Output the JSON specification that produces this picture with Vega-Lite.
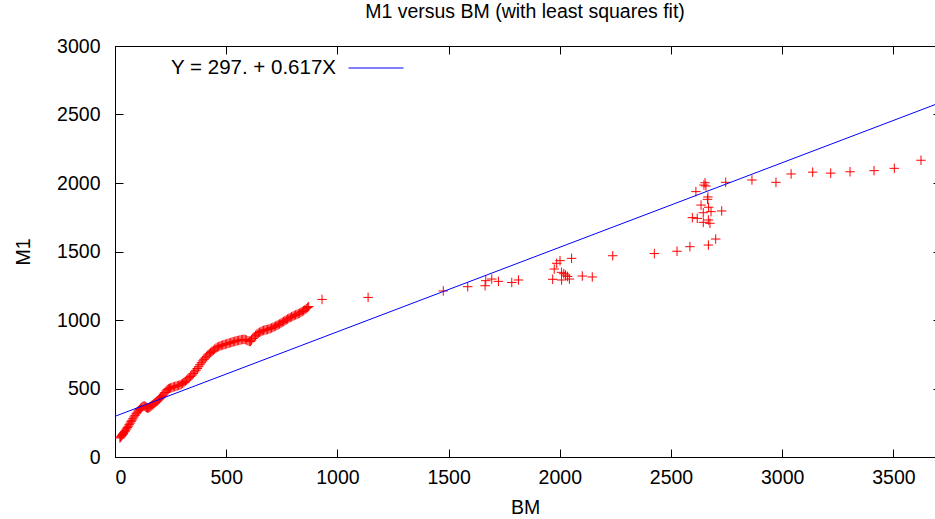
{
  "$schema": "https://vega.github.io/schema/vega-lite/v6.json",
  "width": 820,
  "height": 411,
  "autosize": {"type": "none"},
  "padding": {"left": 115, "top": 46, "right": 0, "bottom": 62},
  "background": "white",
  "title": {"text": "M1 versus BM (with least squares fit)", "font": "Liberation Sans", "fontSize": 19.5, "fontWeight": "normal", "color": "#000000", "anchor": "middle", "offset": 14},
  "config": {
    "view": {"stroke": "#000000", "strokeWidth": 1},
    "axis": {"labelFont": "Liberation Sans", "labelFontSize": 19.5, "labelColor": "#000000", "titleFont": "Liberation Sans", "titleFontSize": 19.5, "titleFontWeight": "normal", "titleColor": "#000000", "grid": false, "domain": false, "tickColor": "#000000", "tickSize": -8, "tickWidth": 1, "format": "d"},
    "legend": {"labelFont": "Liberation Sans", "labelFontSize": 20.5, "labelColor": "#000000", "labelLimit": 400}
  },
  "layer": [
    {
      "data": {"values": [
        {"BM":22,"M1":139},{"BM":25,"M1":145},{"BM":28,"M1":151},{"BM":31,"M1":157},{"BM":34,"M1":164},{"BM":37,"M1":171},{"BM":40,"M1":178},{"BM":44,"M1":187},{"BM":48,"M1":196},{"BM":52,"M1":205},{"BM":56,"M1":215},{"BM":60,"M1":225},{"BM":64,"M1":236},{"BM":68,"M1":247},{"BM":72,"M1":258},{"BM":76,"M1":268},{"BM":80,"M1":279},{"BM":85,"M1":292},{"BM":90,"M1":304},{"BM":95,"M1":316},{"BM":100,"M1":327},{"BM":105,"M1":337},{"BM":110,"M1":346},{"BM":115,"M1":355},{"BM":120,"M1":363},{"BM":125,"M1":369},{"BM":130,"M1":373},{"BM":134,"M1":371},{"BM":138,"M1":366},{"BM":142,"M1":361},{"BM":146,"M1":357},{"BM":150,"M1":358},{"BM":154,"M1":362},{"BM":158,"M1":367},{"BM":162,"M1":372},
        {"BM":166,"M1":377},{"BM":170,"M1":382},{"BM":175,"M1":389},{"BM":180,"M1":396},{"BM":185,"M1":403},{"BM":190,"M1":410},{"BM":195,"M1":417},{"BM":200,"M1":425},{"BM":205,"M1":433},{"BM":210,"M1":441},{"BM":215,"M1":450},{"BM":220,"M1":460},{"BM":225,"M1":471},{"BM":230,"M1":482},{"BM":235,"M1":491},{"BM":240,"M1":497},{"BM":245,"M1":501},{"BM":250,"M1":504},
        {"BM":256,"M1":508},{"BM":262,"M1":511},{"BM":268,"M1":514},{"BM":274,"M1":517},{"BM":280,"M1":520},{"BM":286,"M1":523},{"BM":292,"M1":526},{"BM":298,"M1":531},{"BM":304,"M1":537},{"BM":310,"M1":544},{"BM":316,"M1":552},{"BM":322,"M1":561},{"BM":328,"M1":570},{"BM":334,"M1":579},{"BM":340,"M1":588},{"BM":346,"M1":598},{"BM":352,"M1":609},{"BM":358,"M1":621},{"BM":364,"M1":633},{"BM":370,"M1":646},{"BM":376,"M1":659},{"BM":382,"M1":674},{"BM":388,"M1":688},{"BM":394,"M1":701},{"BM":400,"M1":713},{"BM":406,"M1":724},{"BM":412,"M1":735},{"BM":418,"M1":745},{"BM":424,"M1":754},{"BM":430,"M1":763},{"BM":436,"M1":771},{"BM":442,"M1":779},{"BM":448,"M1":787},{"BM":454,"M1":795},{"BM":460,"M1":801},{"BM":466,"M1":806},{"BM":472,"M1":810},
        {"BM":478,"M1":814},{"BM":484,"M1":817},{"BM":490,"M1":820},{"BM":496,"M1":823},{"BM":502,"M1":826},{"BM":508,"M1":829},{"BM":514,"M1":832},{"BM":520,"M1":835},{"BM":526,"M1":838},{"BM":532,"M1":841},{"BM":538,"M1":844},{"BM":544,"M1":847},{"BM":550,"M1":849},{"BM":556,"M1":851},{"BM":562,"M1":854},{"BM":568,"M1":856},{"BM":574,"M1":858},{"BM":580,"M1":859},{"BM":586,"M1":857},{"BM":592,"M1":853},{"BM":598,"M1":848},{"BM":604,"M1":843},{"BM":609,"M1":844},{"BM":614,"M1":853},{"BM":620,"M1":865},{"BM":626,"M1":877},{"BM":632,"M1":888},{"BM":638,"M1":897},{"BM":644,"M1":904},{"BM":650,"M1":910},{"BM":656,"M1":915},{"BM":662,"M1":920},{"BM":668,"M1":924},{"BM":674,"M1":927},{"BM":680,"M1":929},{"BM":686,"M1":931},{"BM":692,"M1":934},{"BM":698,"M1":938},{"BM":704,"M1":942},{"BM":710,"M1":946},{"BM":716,"M1":951},{"BM":722,"M1":956},{"BM":728,"M1":961},{"BM":734,"M1":966},{"BM":740,"M1":971},{"BM":746,"M1":977},{"BM":752,"M1":983},{"BM":758,"M1":989},{"BM":764,"M1":995},{"BM":770,"M1":1001},{"BM":776,"M1":1007},{"BM":782,"M1":1013},{"BM":788,"M1":1018},{"BM":794,"M1":1023},{"BM":800,"M1":1028},{"BM":806,"M1":1033},{"BM":812,"M1":1037},{"BM":818,"M1":1041},{"BM":824,"M1":1045},{"BM":830,"M1":1050},{"BM":836,"M1":1056},{"BM":842,"M1":1062},{"BM":848,"M1":1068},{"BM":854,"M1":1075},{"BM":860,"M1":1083},{"BM":866,"M1":1091},{"BM":871,"M1":1098},
        {"BM":931,"M1":1150},{"BM":1138,"M1":1165},{"BM":1476,"M1":1212},{"BM":1586,"M1":1243},{"BM":1664,"M1":1250},{"BM":1667,"M1":1287},{"BM":1694,"M1":1299},{"BM":1724,"M1":1282},{"BM":1784,"M1":1274},{"BM":1814,"M1":1292},{"BM":1968,"M1":1297},{"BM":1975,"M1":1372},{"BM":1986,"M1":1414},{"BM":2001,"M1":1433},{"BM":2053,"M1":1450},{"BM":2008,"M1":1348},{"BM":2018,"M1":1338},{"BM":2026,"M1":1328},{"BM":2035,"M1":1318},{"BM":2008,"M1":1292},{"BM":2043,"M1":1299},{"BM":2101,"M1":1321},{"BM":2146,"M1":1314},{"BM":2238,"M1":1469},{"BM":2425,"M1":1485},{"BM":2527,"M1":1502},{"BM":2585,"M1":1535},{"BM":2668,"M1":1547},{"BM":2701,"M1":1591},{"BM":2596,"M1":1747},{"BM":2618,"M1":1742},{"BM":2645,"M1":1713},{"BM":2668,"M1":1730},{"BM":2675,"M1":1706},{"BM":2728,"M1":1796},{"BM":2680,"M1":1791},{"BM":2645,"M1":1783},{"BM":2635,"M1":1839},{"BM":2669,"M1":1823},{"BM":2666,"M1":1898},{"BM":2664,"M1":1881},{"BM":2612,"M1":1937},{"BM":2648,"M1":1985},{"BM":2657,"M1":1978},{"BM":2653,"M1":2002},{"BM":2746,"M1":2005},{"BM":2864,"M1":2022},{"BM":2972,"M1":2005},{"BM":3040,"M1":2066},{"BM":3137,"M1":2079},{"BM":3218,"M1":2072},{"BM":3305,"M1":2082},{"BM":3413,"M1":2090},{"BM":3504,"M1":2107},{"BM":3624,"M1":2166}
      ]},
      "mark": {"type": "point", "shape": "M-1,0H1M0,-1V1", "size": 90, "filled": false, "stroke": "#ff0000", "strokeWidth": 1, "opacity": 1},
      "encoding": {
        "x": {"field": "BM", "type": "quantitative", "scale": {"domain": [0, 3687], "nice": false, "zero": false}, "axis": {"orient": "bottom", "values": [0, 500, 1000, 1500, 2000, 2500, 3000, 3500], "title": "BM", "labelPadding": 19, "titlePadding": 12}},
        "y": {"field": "M1", "type": "quantitative", "scale": {"domain": [0, 3000], "nice": false, "zero": false}, "axis": {"orient": "left", "values": [0, 500, 1000, 1500, 2000, 2500, 3000], "title": "M1", "labelPadding": 23, "titlePadding": 23}}
      }
    },
    {
      "data": {"values": [{"BM": 0, "M1": 297}, {"BM": 3687, "M1": 2572}]},
      "mark": {"type": "line", "strokeWidth": 1},
      "encoding": {
        "x": {"field": "BM", "type": "quantitative", "scale": {"domain": [0, 3687], "nice": false, "zero": false}, "axis": {"orient": "top", "values": [0, 500, 1000, 1500, 2000, 2500, 3000, 3500], "labels": false, "title": null}},
        "y": {"field": "M1", "type": "quantitative", "scale": {"domain": [0, 3000], "nice": false, "zero": false}, "axis": {"orient": "right", "values": [0, 500, 1000, 1500, 2000, 2500, 3000], "labels": false, "title": null, "tickSize": -2}},
        "color": {"datum": "Y = 297. + 0.617X", "type": "nominal", "scale": {"range": ["#0000ff"]}, "legend": {"orient": "none", "legendX": 233, "legendY": -6, "title": null, "symbolType": "stroke", "symbolSize": 3025, "symbolStrokeWidth": 1, "labelAlign": "right", "labelOffset": -68, "labelLimit": 400, "padding": 0}}
      }
    }
  ],
  "resolve": {"axis": {"x": "independent", "y": "independent"}}
}
